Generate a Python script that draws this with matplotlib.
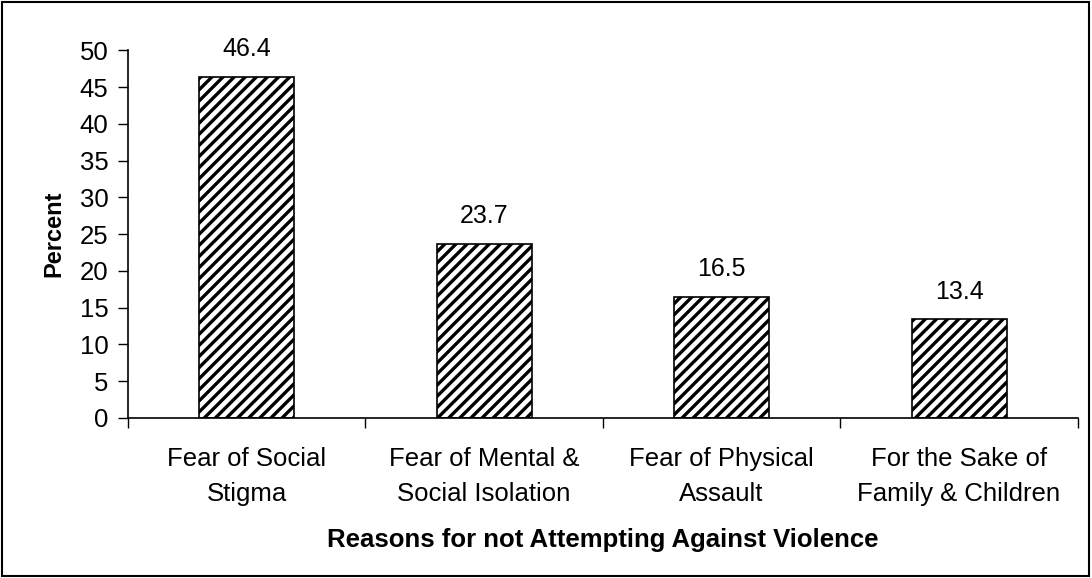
import matplotlib
matplotlib.use("Agg")
import matplotlib.pyplot as plt
from matplotlib.patches import Rectangle

plt.rcParams['font.family'] = ['Liberation Sans', 'DejaVu Sans']
plt.rcParams['hatch.linewidth'] = 2.4

# data
categories = ["Fear of Social\nStigma", "Fear of Mental &\nSocial Isolation",
              "Fear of Physical\nAssault", "For the Sake of\nFamily & Children"]
values = [46.4, 23.7, 16.5, 13.4]
yticks = [0, 5, 10, 15, 20, 25, 30, 35, 40, 45, 50]

fig = plt.figure(figsize=(10.92, 5.78), dpi=100)
ax = fig.add_axes([0.117, 0.277, 0.87, 0.636])

x = range(len(values))
bars = ax.bar(x, values, width=0.4, color="white", edgecolor="black",
              linewidth=1.2, hatch="///")

for b, v in zip(bars, values):
    ax.annotate(f"{v:.1f}", (b.get_x() + b.get_width() / 2, v),
                xytext=(0, 11), textcoords="offset points",
                ha="center", va="bottom", fontsize=18)

ax.set_xlim(-0.5, len(values) - 0.5)
ax.set_ylim(0, 50)
ax.set_yticks(yticks)
ax.set_xticks(x)
ax.set_xticklabels(categories, fontsize=18.5, linespacing=1.55)
ax.set_xticks([i + 0.5 for i in range(-1, len(values))], minor=True)
ax.tick_params(axis="x", which="major", length=0, pad=21)
ax.tick_params(axis="x", which="minor", length=7, width=1, direction="out")
ax.tick_params(axis="y", labelsize=18.5, length=7, width=1, direction="out", pad=7)

for s in ["top", "right"]:
    ax.spines[s].set_visible(False)
for s in ["left", "bottom"]:
    ax.spines[s].set_linewidth(1.2)

ax.set_ylabel("Percent", fontsize=17, fontweight="bold", labelpad=10)
ax.set_xlabel("Reasons for not Attempting Against Violence", fontsize=18.5,
              fontweight="bold", labelpad=16)

fig.patches.append(Rectangle((0.002, 0.004), 0.995, 0.992, transform=fig.transFigure,
                             fill=False, edgecolor="black", linewidth=1.5))

fig.savefig("out.png", dpi=100)
